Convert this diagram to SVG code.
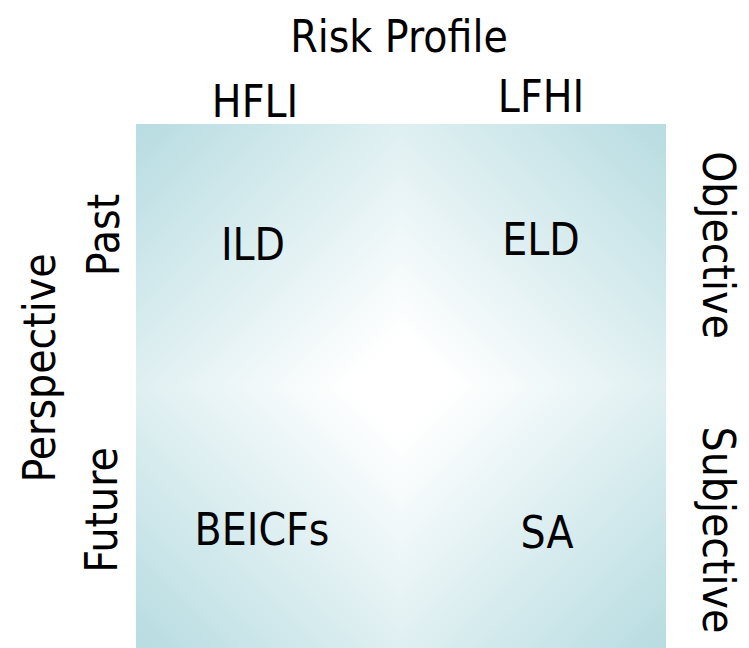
<svg xmlns="http://www.w3.org/2000/svg" width="749" height="648" viewBox="0 0 749 648">
  <style>
    .lbl { font-family: 'DejaVu Sans Condensed', 'DejaVu Sans', sans-serif; font-stretch: condensed; font-size: 44px; fill: #000000; text-anchor: middle; }
  </style>
  <defs>
    <!-- diamond-shaped fill built from four quadrant gradients meeting at the centre -->
    <linearGradient id="gTL" gradientUnits="userSpaceOnUse" x1="401" y1="386" x2="139" y2="121">
      <stop offset="0" stop-color="#ffffff"/>
      <stop offset="0.1" stop-color="#ffffff"/>
      <stop offset="1" stop-color="#b7dce1"/>
    </linearGradient>
    <linearGradient id="gTR" gradientUnits="userSpaceOnUse" x1="401" y1="386" x2="663" y2="121">
      <stop offset="0" stop-color="#ffffff"/>
      <stop offset="0.1" stop-color="#ffffff"/>
      <stop offset="1" stop-color="#b7dce1"/>
    </linearGradient>
    <linearGradient id="gBL" gradientUnits="userSpaceOnUse" x1="401" y1="386" x2="139" y2="651">
      <stop offset="0" stop-color="#ffffff"/>
      <stop offset="0.1" stop-color="#ffffff"/>
      <stop offset="1" stop-color="#b7dce1"/>
    </linearGradient>
    <linearGradient id="gBR" gradientUnits="userSpaceOnUse" x1="401" y1="386" x2="663" y2="651">
      <stop offset="0" stop-color="#ffffff"/>
      <stop offset="0.1" stop-color="#ffffff"/>
      <stop offset="1" stop-color="#b7dce1"/>
    </linearGradient>
  </defs>
  <rect width="749" height="648" fill="#ffffff"/>

  <!-- matrix panel -->
  <g id="panel" shape-rendering="crispEdges">
    <rect x="136" y="124" width="265" height="262" fill="url(#gTL)"/>
    <rect x="401" y="124" width="265" height="262" fill="url(#gTR)"/>
    <rect x="136" y="386" width="265" height="262" fill="url(#gBL)"/>
    <rect x="401" y="386" width="265" height="262" fill="url(#gBR)"/>
  </g>

  <!-- axis titles -->
  <g id="axis-top">
    <text class="lbl" x="399" y="52">Risk Profile</text>
    <text class="lbl" x="255" y="117">HFLI</text>
    <text class="lbl" x="541" y="112">LFHI</text>
  </g>
  <g id="axis-left">
    <text class="lbl" transform="translate(55,368) rotate(-90)">Perspective</text>
    <text class="lbl" transform="translate(119,235) rotate(-90)">Past</text>
    <text class="lbl" transform="translate(117,510) rotate(-90)">Future</text>
  </g>
  <g id="axis-right">
    <text class="lbl" transform="translate(703,245) rotate(90)">Objective</text>
    <text class="lbl" transform="translate(703,530) rotate(90)">Subjective</text>
  </g>

  <!-- quadrant labels -->
  <g id="q-ild"><text class="lbl" x="253" y="260">ILD</text></g>
  <g id="q-eld"><text class="lbl" x="541" y="255">ELD</text></g>
  <g id="q-beicfs"><text class="lbl" x="262" y="545">BEICFs</text></g>
  <g id="q-sa"><text class="lbl" x="547" y="548">SA</text></g>
</svg>
